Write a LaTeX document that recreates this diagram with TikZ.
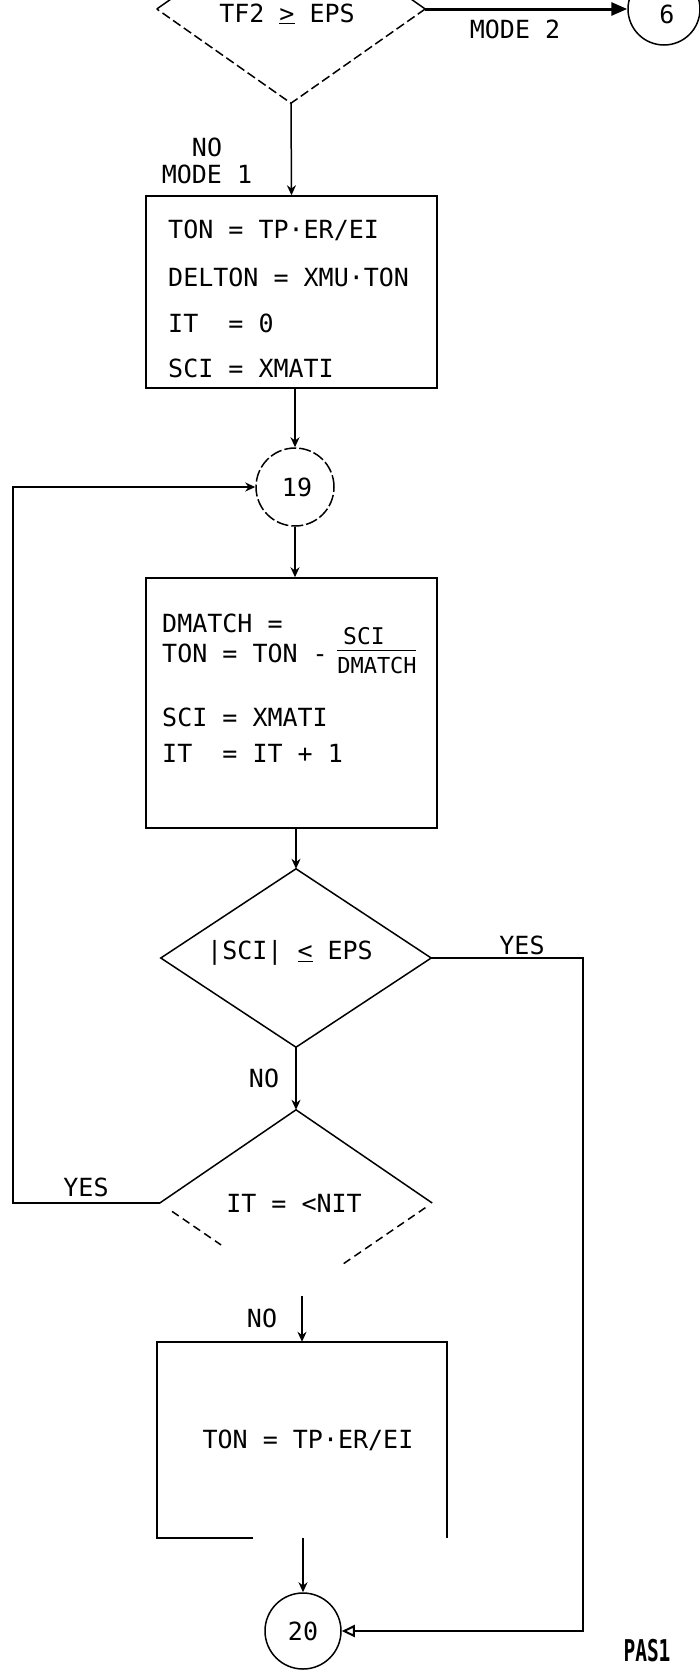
\documentclass[tikz,border=0pt]{standalone}
\usepackage{fontspec}
\setmainfont{DejaVu Sans Mono}
\usetikzlibrary{shapes.geometric,arrows.meta,calc}
\begin{document}
\begin{tikzpicture}[x=1pt,y=-1pt,
  every node/.style={font=\fontsize{25}{30}\selectfont, inner sep=0pt},
  ln/.style={line width=1.5pt},
  dia/.style={diamond, aspect=1.5, inner sep=0pt},
  boxn/.style={rectangle, draw, line width=1.5pt},
  circ/.style={circle, draw, line width=1.5pt},
  arr/.style={ln, -{Stealth[length=10pt,width=9pt]}},
  txt/.style={anchor=west},
]
\useasboundingbox (0,0) rectangle (699,1671);
\fill[white] (0,0) rectangle (699,1671);

% ---- top decision
\node[dia, minimum width=268pt, minimum height=188pt] (d0) at (291,9) {};
\node (d0t) at (287,14) {TF2 \underline{>} EPS};
\draw[ln] (d0.west) -- (d0.north) -- (d0.east);
\draw[ln, dash pattern=on 9pt off 4pt] (d0.east) -- (d0.south) -- (d0.west);
\node[circ, minimum size=72pt] (c6) at (664,9) {};
\node (c6t) at (667,14) {6};
\draw[line width=3pt, -{Triangle[length=16pt,width=13pt]}] (d0.east) -- (c6.west);
\node (m2) at (515,29) {MODE 2};

% ---- box 1
\node[align=center, font=\fontsize{25}{27}\selectfont] (lbl1) at (207,161) {NO\\MODE 1};
\node[boxn, minimum width=291pt, minimum height=192pt] (b1) at (291.5,292) {};
\node[txt] (t1a) at (168,230) {TON = TP·ER/EI};
\node[txt] (t1b) at (168,277) {DELTON = XMU·TON};
\node[txt] (t1c) at (168,323) {IT~~= 0};
\node[txt] (t1d) at (168,368) {SCI = XMATI};
\draw[arr] (d0.south) -- (b1.north);

% ---- connector 19
\node[circ, minimum size=78pt, dash pattern=on 12pt off 3pt] (c19) at (295,487) {};
\node (c19t) at (297,487) {19};
\draw[arr] (c19.north |- b1.south) -- (c19.north);

% ---- box 2
\node[boxn, minimum width=291pt, minimum height=250pt] (b2) at (291.5,703) {};
\node[txt] (t2a) at (162,623) {DMATCH =};
\node[txt] (t2b) at (162,653) {TON = TON -};
\node (t2n) at (364,636) {\fontsize{23}{24}\selectfont SCI};
\node (t2d) at (377,665) {\fontsize{22}{24}\selectfont DMATCH};
\draw[line width=1.2pt] (t2d.north west) ++(0,-6) -- ++(79,0);
\node[txt] (t2e) at (162,717) {SCI = XMATI};
\node[txt] (t2f) at (162,753) {IT~~= IT + 1};
\draw[arr] (c19.south) -- (c19.south |- b2.north);

% ---- decision |SCI| <= EPS
\node[dia, minimum width=270pt, minimum height=178pt] (d1) at (296,958) {};
\draw[ln] (d1.north) -- (d1.east) -- (d1.south) -- (d1.west) -- cycle;
\node (d1t) at (290,953) {|SCI| \underline{<} EPS};
\draw[arr] (d1.north |- b2.south) -- (d1.north);
\node (yes1) at (522,945) {YES};
\node (no2) at (264,1078) {NO};

% ---- decision IT = <NIT
\node[dia, minimum width=272pt, minimum height=186pt] (d2) at (296,1203) {};
\draw[ln] (d2.west) -- (d2.north) -- (d2.east);
\draw[ln, dash pattern=on 8pt off 5pt] ($(d2.west)!0.09!(d2.south)$) -- ($(d2.west)!0.45!(d2.south)$);
\draw[ln, dash pattern=on 8pt off 5pt] ($(d2.east)!0.05!(d2.south)$) -- ($(d2.east)!0.68!(d2.south)$);
\node (d2t) at (294,1203) {IT = <NIT};
\draw[arr] (d1.south) -- (d2.north);
\node (yes2) at (86,1187) {YES};
\draw[line width=2pt, -{Stealth[length=10pt,width=9pt]}] (d2.west) -- ++(-147,0) |- (c19.west);

% ---- box 3
\node[minimum width=290pt, minimum height=196pt] (b3) at (302,1440) {};
\draw[ln] ($(b3.south west)+(96,0)$) -- (b3.south west) -- (b3.north west) -- (b3.north east) -- (b3.south east);
\node (t3) at (308,1440) {TON = TP·ER/EI};
\node (no3) at (262,1318) {NO};
\draw[arr] (b3.north |- d2.south) -- (b3.north);

% ---- connector 20
\node[circ, minimum size=76pt] (c20) at (303,1631) {};
\node (c20t) at (303,1631) {20};
\draw[arr] (c20.north |- b3.south) -- (c20.north);
\draw[line width=2pt, -{Triangle[open,length=13pt,width=12pt]}] (d1.east) -- ++(152,0) |- (c20.east);

\node[anchor=base] (pas) at (647,1661) {\scalebox{0.65}[1]{\fontsize{30}{34}\selectfont\bfseries PAS1}};
\end{tikzpicture}
\end{document}
